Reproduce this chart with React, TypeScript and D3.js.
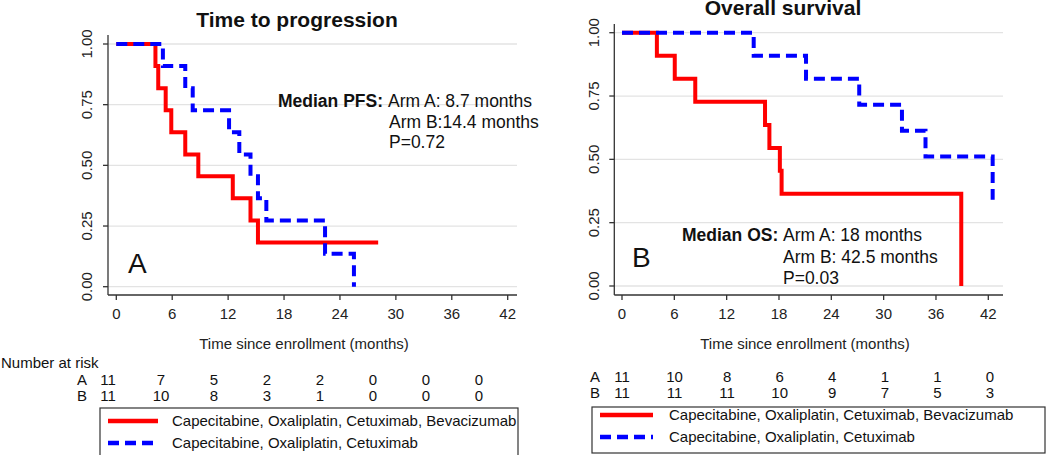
import React from "react";
import * as d3 from "d3";

const xTicks = [0, 6, 12, 18, 24, 30, 36, 42];
const yTicks = [0, 0.25, 0.5, 0.75, 1];

// Time to progression (panel A)
const pfsTimesA = [0, 4.2, 4.5, 5.3, 5.9, 7.4, 8.8, 12.5, 14.4, 15.2, 28.1];
const pfsSurvA = [1, 0.909, 0.818, 0.727, 0.636, 0.545, 0.455, 0.364, 0.273, 0.182, 0.182];
const pfsTimesB = [0, 5.0, 7.4, 8.2, 12.1, 13.2, 14.4, 15.2, 16.1, 22.4, 25.5];
const pfsSurvB = [1, 0.909, 0.818, 0.727, 0.636, 0.545, 0.455, 0.364, 0.273, 0.136, 0];

// Overall survival (panel B)
const osTimesA = [0, 4.0, 6.05, 8.4, 16.4, 16.9, 18.1, 18.3, 38.9, 38.9];
const osSurvA = [1, 0.909, 0.818, 0.727, 0.636, 0.545, 0.455, 0.364, 0.364, 0];
const osTimesB = [0, 15.1, 21.1, 27.2, 32.1, 34.8, 42.5, 42.5];
const osSurvB = [1, 0.909, 0.818, 0.716, 0.613, 0.511, 0.511, 0.341];

const riskPfsA = [11, 7, 5, 2, 2, 0, 0, 0];
const riskPfsB = [11, 10, 8, 3, 1, 0, 0, 0];
const riskOsA = [11, 10, 8, 6, 4, 1, 1, 0];
const riskOsB = [11, 11, 11, 10, 9, 7, 5, 3];

const legendLabels = [
  "Capecitabine, Oxaliplatin, Cetuximab, Bevacizumab",
  "Capecitabine, Oxaliplatin, Cetuximab",
];

const RED = "#ff0000";
const BLUE = "#0000ff";
const FONT = "'Liberation Sans', Arial, sans-serif";

type PanelProps = {
  title: string;
  titleX: number;
  titleY: number;
  x0: number;
  x1: number;
  yTop: number;
  yBottom: number;
  axisX: number;
  axisTop: number;
  axisBottom: number;
  rightEdge: number;
  yLabelX: number;
  xTitleX: number;
  timesA: number[];
  survA: number[];
  timesB: number[];
  survB: number[];
};

function Panel(p: PanelProps) {
  const x = d3.scaleLinear().domain([0, 42]).range([p.x0, p.x1]);
  const y = d3.scaleLinear().domain([0, 1]).range([p.yBottom, p.yTop]);
  const line = d3
    .line<[number, number]>()
    .x((d) => x(d[0]))
    .y((d) => y(d[1]))
    .curve(d3.curveStepAfter);
  const ptsA = p.timesA.map((t, i) => [t, p.survA[i]] as [number, number]);
  const ptsB = p.timesB.map((t, i) => [t, p.survB[i]] as [number, number]);
  return (
    <g>
      <text x={p.titleX} y={p.titleY} textAnchor="middle" fontSize={21} fontWeight="bold" fill="#111">
        {p.title}
      </text>
      {yTicks.map((t) => (
        <line key={"g" + t} x1={p.axisX} x2={p.rightEdge} y1={y(t)} y2={y(t)} stroke="#e3e3e3" strokeWidth={1.3} />
      ))}
      <line x1={p.axisX} x2={p.axisX} y1={p.axisTop} y2={p.axisBottom} stroke="#333" strokeWidth={1.3} />
      <line x1={p.axisX} x2={p.rightEdge} y1={p.axisBottom} y2={p.axisBottom} stroke="#333" strokeWidth={1.3} />
      {yTicks.map((t) => (
        <g key={"y" + t}>
          <line x1={p.axisX - 5} x2={p.axisX} y1={y(t)} y2={y(t)} stroke="#333" strokeWidth={1.3} />
          <text
            transform={`translate(${p.yLabelX},${y(t)}) rotate(-90)`}
            textAnchor="middle"
            dy="0.35em"
            fontSize={15}
            fill="#222"
          >
            {d3.format(".2f")(t)}
          </text>
        </g>
      ))}
      {xTicks.map((t) => (
        <g key={"x" + t}>
          <line x1={x(t)} x2={x(t)} y1={p.axisBottom} y2={p.axisBottom + 5} stroke="#333" strokeWidth={1.3} />
          <text x={x(t)} y={p.axisBottom + 24} textAnchor="middle" fontSize={15} fill="#222">
            {t}
          </text>
        </g>
      ))}
      <text x={p.xTitleX} y={p.axisBottom + 54} textAnchor="middle" fontSize={15} fill="#222">
        Time since enrollment (months)
      </text>
      <path d={line(ptsA) || ""} fill="none" stroke={RED} strokeWidth={4} />
      <path d={line(ptsB) || ""} fill="none" stroke={BLUE} strokeWidth={4} strokeDasharray="11,6" />
    </g>
  );
}

function RiskTable(props: { xs: d3.ScaleLinear<number, number>; labelX: number; yA: number; yB: number; a: number[]; b: number[] }) {
  return (
    <g fontSize={15} fill="#111">
      <text x={props.labelX} y={props.yA} textAnchor="middle" dy="0.35em">A</text>
      <text x={props.labelX} y={props.yB} textAnchor="middle" dy="0.35em">B</text>
      {props.a.map((v, i) => (
        <text key={"a" + i} x={props.xs(xTicks[i])} y={props.yA} textAnchor="middle" dy="0.35em">{v}</text>
      ))}
      {props.b.map((v, i) => (
        <text key={"b" + i} x={props.xs(xTicks[i])} y={props.yB} textAnchor="middle" dy="0.35em">{v}</text>
      ))}
    </g>
  );
}

function Legend(props: { x: number; y: number; w: number; h: number; lx0: number; lx1: number; tx: number; y1: number; y2: number }) {
  return (
    <g>
      <rect x={props.x} y={props.y} width={props.w} height={props.h} fill="white" stroke="#333" strokeWidth={1.2} />
      <line x1={props.lx0} x2={props.lx1} y1={props.y1} y2={props.y1} stroke={RED} strokeWidth={4.5} />
      <line x1={props.lx0} x2={props.lx1} y1={props.y2} y2={props.y2} stroke={BLUE} strokeWidth={4.5} strokeDasharray="11,6" />
      <text x={props.tx} y={props.y1} dy="0.35em" fontSize={15} fill="#111">{legendLabels[0]}</text>
      <text x={props.tx} y={props.y2} dy="0.35em" fontSize={15} fill="#111">{legendLabels[1]}</text>
    </g>
  );
}

export default function App() {
  const riskLeft = d3.scaleLinear().domain([0, 42]).range([108, 479]);
  const riskRight = d3.scaleLinear().domain([0, 42]).range([622, 990]);
  return (
    <svg
      width={1050}
      height={455}
      style={{ position: "absolute", left: 0, top: 0, background: "white" }}
      fontFamily={FONT}
    >
      <rect width={1050} height={455} fill="white" />
      <Panel
        title="Time to progression"
        titleX={297}
        titleY={27}
        x0={116.3}
        x1={507.7}
        yTop={44}
        yBottom={286.7}
        axisX={108}
        axisTop={35}
        axisBottom={295}
        rightEdge={517}
        yLabelX={87}
        xTitleX={304}
        timesA={pfsTimesA}
        survA={pfsSurvA}
        timesB={pfsTimesB}
        survB={pfsSurvB}
      />
      <Panel
        title="Overall survival"
        titleX={783}
        titleY={15}
        x0={622}
        x1={988.3}
        yTop={32.7}
        yBottom={286}
        axisX={614.3}
        axisTop={24}
        axisBottom={295}
        rightEdge={1003}
        yLabelX={594}
        xTitleX={805}
        timesA={osTimesA}
        survA={osSurvA}
        timesB={osTimesB}
        survB={osSurvB}
      />
      {/* annotations */}
      <g fontSize={17.5} fill="#111">
        <text x={278} y={107} fontWeight="bold">Median PFS:</text>
        <text x={388} y={107}>Arm A: 8.7 months</text>
        <text x={389} y={128}>Arm B:14.4 months</text>
        <text x={389} y={148}>P=0.72</text>
        <text x={682} y={241} fontWeight="bold">Median OS:</text>
        <text x={783} y={241}>Arm A: 18 months</text>
        <text x={783} y={263}>Arm B: 42.5 months</text>
        <text x={783} y={284}>P=0.03</text>
      </g>
      <text x={128} y={273} fontSize={28} fill="#111">A</text>
      <text x={632} y={267} fontSize={28} fill="#111">B</text>
      <text x={1} y={363} dy="0.35em" fontSize={15} fill="#111">Number at risk</text>
      <RiskTable xs={riskLeft} labelX={82} yA={380} yB={396} a={riskPfsA} b={riskPfsB} />
      <RiskTable xs={riskRight} labelX={595} yA={377} yB={393} a={riskOsA} b={riskOsB} />
      <Legend x={100} y={408} w={418} h={60} lx0={108} lx1={158} tx={172} y1={421} y2={443} />
      <Legend x={592} y={407} w={453} h={46} lx0={600} lx1={653} tx={669} y1={415} y2={437} />
    </svg>
  );
}
